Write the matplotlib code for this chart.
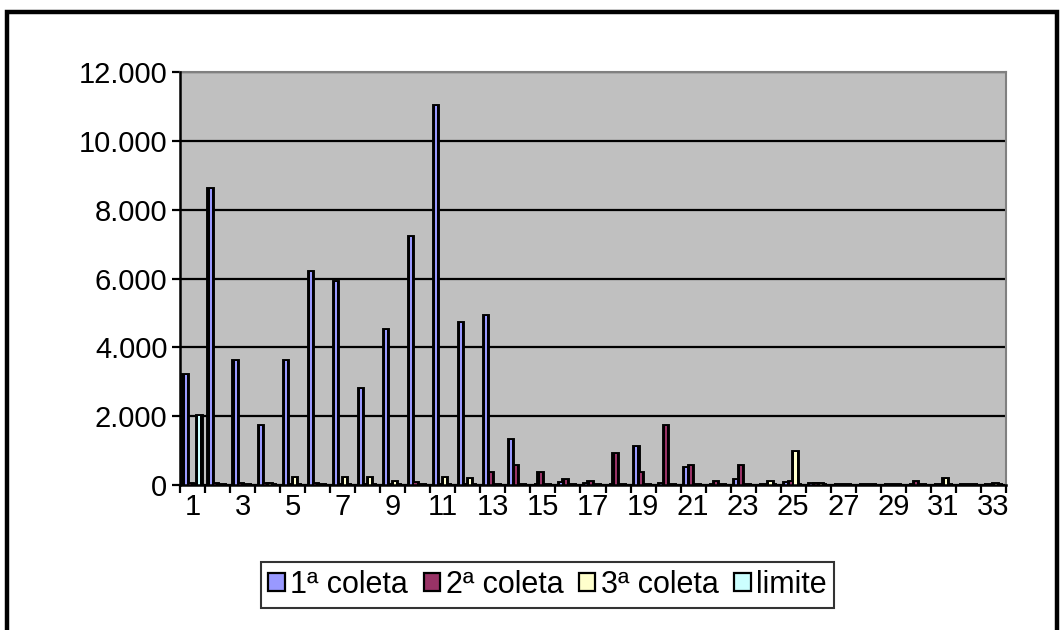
import numpy as np
import matplotlib
matplotlib.use("Agg")
import matplotlib.pyplot as plt
from matplotlib.patches import Rectangle
from matplotlib.ticker import FuncFormatter, FixedLocator

plt.rcParams['font.family'] = ['Liberation Sans', 'DejaVu Sans']

categories = list(range(1, 34))
coleta1 = [3200, 8600, 3600, 1700, 3600, 6200, 5900, 2800, 4500, 7200, 11000,
           4700, 4900, 1300, 0, 50, 40, 0, 1100, 40, 500, 0, 150, 0, 60,
           40, 0, 0, 0, 0, 0, 0, 0]
coleta2 = [30, 20, 20, 40, 0, 20, 0, 0, 0, 60, 0, 0, 350, 550, 350, 150,
           100, 900, 350, 1700, 550, 100, 550, 0, 80, 20, 10, 10, 10, 80,
           0, 0, 10]
coleta3 = [0, 0, 0, 20, 200, 0, 200, 200, 80, 0, 200, 180, 0, 0, 0, 0,
           0, 0, 0, 0, 0, 0, 0, 80, 950, 20, 0, 0, 0, 0, 180, 0, 20]
limite = [2000] + [0] * 32

series = [("1ª coleta", coleta1, "#9999FF"),
          ("2ª coleta", coleta2, "#993366"),
          ("3ª coleta", coleta3, "#FFFFCC"),
          ("limite", limite, "#CCFFFF")]

W, H = 1061, 630
fig = plt.figure(figsize=(W / 100, H / 100), dpi=100)
ax = fig.add_axes([180 / W, (H - 485) / H, (1006 - 180) / W, (485 - 72) / H])
ax.set_facecolor("#C0C0C0")

x = np.array(categories, dtype=float)
bw = 1 / 5.5
for i, (name, vals, col) in enumerate(series):
    pos = x + (i - 1.5) * bw
    # heavy black column body, then a thin coloured face inside it
    ax.bar(pos, vals, width=bw, color="black", edgecolor="black",
           linewidth=2.8, zorder=3)
    ax.bar(pos, vals, width=bw * 0.45, color=col, linewidth=0,
           label=name, zorder=4)

ax.set_xlim(0.5, 33.5)
ax.set_ylim(0, 12000)

ax.yaxis.set_major_locator(FixedLocator(np.arange(0, 12001, 2000)))
ax.yaxis.set_major_formatter(FuncFormatter(lambda v, p: f"{int(v):,}".replace(",", ".")))
ax.grid(axis="y", color="black", linewidth=1.6, zorder=1)
ax.set_axisbelow(True)

ax.set_xticks(np.arange(0.5, 33.6, 1))
ax.set_xticklabels([])
ax.set_xticks(categories[::2], minor=True)
ax.set_xticklabels([str(c) for c in categories[::2]], minor=True)
ax.tick_params(axis="x", which="major", direction="out", length=6, width=1.6,
               color="black")
ax.tick_params(axis="x", which="minor", length=0, labelsize=21, pad=6)
ax.tick_params(axis="y", direction="out", length=6, width=1.6, labelsize=21,
               pad=3)

for side in ("left", "bottom"):
    ax.spines[side].set_color("black")
    ax.spines[side].set_linewidth(1.8)
    ax.spines[side].set_zorder(5)
for side in ("top", "right"):
    ax.spines[side].set_color("#808080")
    ax.spines[side].set_linewidth(1.5)

handles, labels = ax.get_legend_handles_labels()
leg = fig.legend(handles, labels, loc="center right",
                 bbox_to_anchor=(834 / W, (H - 585) / H),
                 ncol=4, fontsize=22, frameon=True, fancybox=False,
                 edgecolor="black", handlelength=0.55, handleheight=0.55,
                 handletextpad=0.17, columnspacing=0.5, borderpad=0.25,
                 borderaxespad=0)
leg.get_frame().set_linewidth(1.5)
for h in leg.legend_handles:
    h.set_edgecolor("black")
    h.set_linewidth(1.6)

# outer chart frame
fig.patches.append(Rectangle((7 / W, -0.05), (1057 - 7) / W, 1.05 - 12 / H,
                             transform=fig.transFigure, fill=False,
                             edgecolor="black", linewidth=3.2))

fig.savefig("out.png", dpi=100)
